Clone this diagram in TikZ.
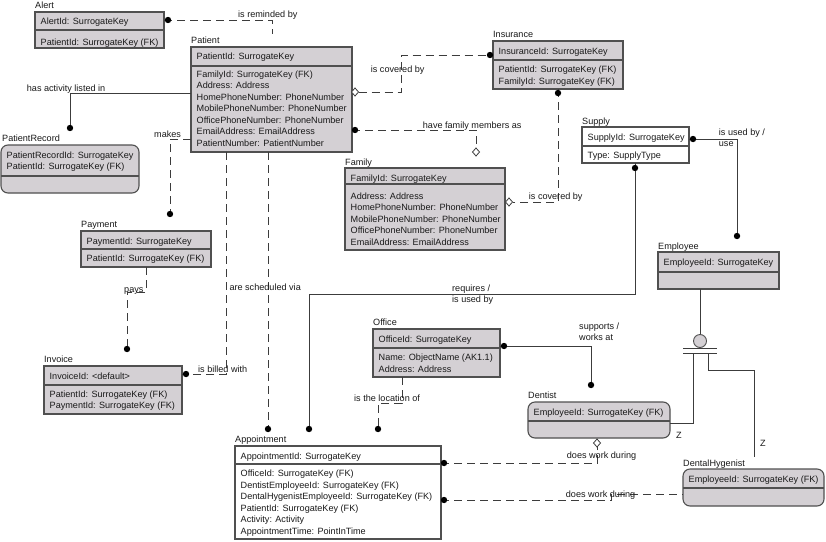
\documentclass[tikz,border=0pt]{standalone}
\usepackage{fontspec}
\setmainfont{Liberation Sans}
\newcommand\erfont{\fontsize{9.1}{11.45}\selectfont}
\definecolor{efill}{RGB}{212,208,212}
\definecolor{eline}{RGB}{80,80,80}
\definecolor{etxt}{RGB}{25,25,25}
\definecolor{cline}{RGB}{60,60,60}
\tikzset{
  ebox/.style={draw=eline, line width=1.1pt, fill=efill, anchor=north west, inner sep=0pt, outer sep=0pt},
  wbox/.style={ebox, fill=white},
  rbox/.style={ebox, rounded corners=7pt},
  sepl/.style={draw=eline, line width=1.1pt},
  etext/.style={anchor=north west, inner sep=0pt, font=\erfont, align=left, text=etxt},
  etitle/.style={anchor=base west, inner sep=0pt, font=\erfont, text=etxt},
  lab/.style={anchor=base west, inner sep=0pt, font=\erfont, text=etxt},
  conn/.style={draw=cline, line width=0.9pt},
  dconn/.style={conn, dash pattern=on 8pt off 5pt},
  erdot/.style={fill=black},
  erdia/.style={draw=cline, fill=white, line width=0.8pt}
}
\newcommand\erst{\rule{0pt}{9pt}}
\begin{document}
\begin{tikzpicture}[x=1pt,y=-1pt]
\fill[white] (0,0) rectangle (826,541);
\useasboundingbox (0,0) rectangle (826,541);

% ---------- entities ----------
% Alert
\node[ebox, minimum width=129pt, minimum height=36pt] (alert) at (35,12) {};
\draw[sepl] (alert.west |- 0,30) -- (alert.east |- 0,30);
\node[etitle] (alertt) at (35,8.3) {Alert};
\node[etext] (alertk) at (40.5,15.6) {\erst AlertId: SurrogateKey};
\node[etext] (alerta) at (40.5,36.6) {\erst PatientId: SurrogateKey (FK)};

% Patient
\node[ebox, minimum width=161pt, minimum height=105pt] (patient) at (191,47) {};
\draw[sepl] (patient.west |- 0,66) -- (patient.east |- 0,66);
\node[etitle] (patientt) at (191,43.3) {Patient};
\node[etext] (patientk) at (196.5,50.3) {\erst PatientId: SurrogateKey};
\node[etext] (patienta) at (196.5,68.3) {\erst FamilyId: SurrogateKey (FK)\\Address: Address\\HomePhoneNumber: PhoneNumber\\MobilePhoneNumber: PhoneNumber\\OfficePhoneNumber: PhoneNumber\\EmailAddress: EmailAddress\\PatientNumber: PatientNumber};

% Insurance
\node[ebox, minimum width=130pt, minimum height=48pt] (insurance) at (493,41) {};
\draw[sepl] (insurance.west |- 0,60) -- (insurance.east |- 0,60);
\node[etitle] (insurancet) at (493,37.3) {Insurance};
\node[etext] (insurancek) at (498.5,45) {\erst InsuranceId: SurrogateKey};
\node[etext] (insurancea) at (498.5,63.6) {\erst PatientId: SurrogateKey (FK)\\FamilyId: SurrogateKey (FK)};

% Family
\node[ebox, minimum width=160pt, minimum height=82pt] (family) at (345,168) {};
\draw[sepl] (family.west |- 0,184) -- (family.east |- 0,184);
\node[etitle] (familyt) at (345,165) {Family};
\node[etext] (familyk) at (350.5,172) {\erst FamilyId: SurrogateKey};
\node[etext] (familya) at (350.5,190) {\erst Address: Address\\HomePhoneNumber: PhoneNumber\\MobilePhoneNumber: PhoneNumber\\OfficePhoneNumber: PhoneNumber\\EmailAddress: EmailAddress};

% Supply
\node[wbox, minimum width=107pt, minimum height=36pt] (supply) at (582,127) {};
\draw[sepl] (supply.west |- 0,146) -- (supply.east |- 0,146);
\node[etitle] (supplyt) at (582,124) {Supply};
\node[etext] (supplyk) at (587.5,131) {\erst SupplyId: SurrogateKey};
\node[etext] (supplya) at (587.5,149.3) {\erst Type: SupplyType};

% Employee
\node[ebox, minimum width=121pt, minimum height=37pt] (employee) at (658,252) {};
\draw[sepl] (employee.west |- 0,272) -- (employee.east |- 0,272);
\node[etitle] (employeet) at (658,249) {Employee};
\node[etext] (employeek) at (663.5,256.6) {\erst EmployeeId: SurrogateKey};

% PatientRecord
\node[rbox, minimum width=138pt, minimum height=48pt] (precord) at (1,145) {};
\draw[sepl] (precord.west |- 0,176) -- (precord.east |- 0,176);
\node[etitle] (precordt) at (2,141) {PatientRecord};
\node[etext] (precordk) at (6.5,149) {\erst PatientRecordId: SurrogateKey\\PatientId: SurrogateKey (FK)};

% Payment
\node[ebox, minimum width=130pt, minimum height=36pt] (payment) at (81,231) {};
\draw[sepl] (payment.west |- 0,249) -- (payment.east |- 0,249);
\node[etitle] (paymentt) at (81,227.6) {Payment};
\node[etext] (paymentk) at (86.5,235) {\erst PaymentId: SurrogateKey};
\node[etext] (paymenta) at (86.5,252.6) {\erst PatientId: SurrogateKey (FK)};

% Invoice
\node[ebox, minimum width=138pt, minimum height=48pt] (invoice) at (44,366) {};
\draw[sepl] (invoice.west |- 0,385) -- (invoice.east |- 0,385);
\node[etitle] (invoicet) at (44,362.3) {Invoice};
\node[etext] (invoicek) at (49.5,370) {\erst InvoiceId: <default>};
\node[etext] (invoicea) at (49.5,388.3) {\erst PatientId: SurrogateKey (FK)\\PaymentId: SurrogateKey (FK)};

% Office
\node[ebox, minimum width=127pt, minimum height=48pt] (office) at (373,329) {};
\draw[sepl] (office.west |- 0,348) -- (office.east |- 0,348);
\node[etitle] (officet) at (373,325) {Office};
\node[etext] (officek) at (378.5,333) {\erst OfficeId: SurrogateKey};
\node[etext] (officea) at (378.5,351.6) {\erst Name: ObjectName (AK1.1)\\Address: Address};

% Appointment
\node[wbox, minimum width=206pt, minimum height=93pt] (appt) at (235,446) {};
\draw[sepl] (appt.west |- 0,464) -- (appt.east |- 0,464);
\node[etitle] (apptt) at (235,442.3) {Appointment};
\node[etext] (apptk) at (240.5,450) {\erst AppointmentId: SurrogateKey};
\node[etext] (appta) at (240.5,467.6) {\erst OfficeId: SurrogateKey (FK)\\DentistEmployeeId: SurrogateKey (FK)\\DentalHygenistEmployeeId: SurrogateKey (FK)\\PatientId: SurrogateKey (FK)\\Activity: Activity\\AppointmentTime: PointInTime};

% Dentist
\node[rbox, minimum width=142pt, minimum height=36pt] (dentist) at (528,402) {};
\draw[sepl] (dentist.west |- 0,421) -- (dentist.east |- 0,421);
\node[etitle] (dentistt) at (528,398) {Dentist};
\node[etext] (dentistk) at (533.5,406) {\erst EmployeeId: SurrogateKey (FK)};

% DentalHygenist
\node[rbox, minimum width=141pt, minimum height=37pt] (dh) at (683,469) {};
\draw[sepl] (dh.west |- 0,488) -- (dh.east |- 0,488);
\node[etitle] (dht) at (683,466) {DentalHygenist};
\node[etext] (dhk) at (688.5,473) {\erst EmployeeId: SurrogateKey (FK)};

% ---------- connectors ----------
% Alert - Patient
\coordinate (remEnd) at (272,34);
\draw[dconn] (alert.east |- 0,20) -- (272,20) -- (remEnd);
\fill[erdot] (168,20) circle (3.2pt);
\node[lab] (l1) at (238,17.3) {is reminded by};

% Patient - PatientRecord
\draw[conn] (patient.west |- 0,93) -- (70,93) -- (70,128);
\fill[erdot] (70,128) circle (3.2pt);
\node[lab] (l2) at (26.7,91) {has activity listed in};

% Patient - Payment
\draw[dconn] (patient.west |- 0,139) -- (170,139) -- (170,214);
\fill[erdot] (170,214) circle (3.2pt);
\node[lab] (l3) at (154,137.5) {makes};

% Patient - Insurance
\draw[dconn] (358.5,92) -- (401,92) -- (401,55) -- (insurance.west |- 0,55);
\fill[erdot] (490,55) circle (3.2pt);
\filldraw[erdia, shift={(355,92)}] (-3.5,0) -- (0,-4) -- (3.5,0) -- (0,4) -- cycle;
\node[lab] (l4) at (370.7,72.3) {is covered by};

% Patient - Family
\draw[dconn] (patient.east |- 0,130) -- (476,130) -- (476,148);
\fill[erdot] (355,130) circle (3.2pt);
\filldraw[erdia, shift={(476,152)}] (-3.5,0) -- (0,-4) -- (3.5,0) -- (0,4) -- cycle;
\node[lab] (l5) at (422.7,128.3) {have family members as};

% Insurance - Family
\draw[dconn] (558,0 |- insurance.south) -- (558,202) -- (512.5,202);
\fill[erdot] (558,93) circle (3.2pt);
\filldraw[erdia, shift={(509,202)}] (-3.5,0) -- (0,-4) -- (3.5,0) -- (0,4) -- cycle;
\node[lab] (l6) at (528.7,199.3) {is covered by};

% Supply - Employee
\draw[conn] (supply.east |- 0,139) -- (737,139) -- (737,236);
\fill[erdot] (693,139) circle (3.2pt);
\fill[erdot] (737,236) circle (3.2pt);
\node[etext] (l7) at (718.7,126.3) {\erst is used by /\\use};

% Supply - Appointment
\draw[conn] (635,0 |- supply.south) -- (635,294) -- (309,294) -- (309,429);
\fill[erdot] (635,168) circle (3.2pt);
\fill[erdot] (309,429) circle (3.2pt);
\node[etext] (l8) at (452,282.3) {\erst requires /\\is used by};

% Patient - Appointment
\draw[dconn] (268,0 |- patient.south) -- (268,429);
\fill[erdot] (268,429) circle (3.2pt);
\node[lab] (l9) at (229.3,290) {are scheduled via};

% Patient - Invoice
\draw[dconn] (226,0 |- patient.south) -- (226,374) -- (invoice.east |- 0,374);
\fill[erdot] (186,374) circle (3.2pt);
\node[lab] (l10) at (198,372) {is billed with};

% Payment - Invoice
\draw[dconn] (146,0 |- payment.south) -- (146,292) -- (127,292) -- (127,349);
\fill[erdot] (127,349) circle (3.2pt);
\node[lab] (l11) at (124,292) {pays};

% Office - Appointment
\draw[dconn] (402,0 |- office.south) -- (402,403) -- (378,403) -- (378,429);
\fill[erdot] (378,429) circle (3.2pt);
\node[lab] (l12) at (354,401) {is the location of};

% Office - Dentist
\draw[conn] (office.east |- 0,346) -- (591,346) -- (591,385);
\fill[erdot] (504,346) circle (3.2pt);
\fill[erdot] (591,385) circle (3.2pt);
\node[etext] (l13) at (579,320) {\erst supports /\\works at};

% Dentist - Appointment
\draw[dconn] (appt.east |- 0,463) -- (597,463) -- (597,447);
\fill[erdot] (444,463) circle (3.2pt);
\filldraw[erdia, shift={(597,443)}] (-3.5,0) -- (0,-4) -- (3.5,0) -- (0,4) -- cycle;
\node[lab] (l14) at (566.7,458.3) {does work during};

% DentalHygenist - Appointment
\draw[dconn] (appt.east |- 0,500) -- (611,500) -- (611,494) -- (dh.west |- 0,494);
\fill[erdot] (444,500) circle (3.2pt);
\node[lab] (l15) at (565.7,497.3) {does work during};

% Employee subtypes
\node[circle, draw=eline, fill=efill, line width=0.9pt, minimum size=13pt, inner sep=0pt] (subc) at (700,341) {};
\draw[conn] (employee.south -| subc) -- (subc.north);
\draw[conn] (683,348.3) -- (717,348.3);
\draw[conn] (683,353.6) -- (717,353.6);
\draw[conn] (693,353.6) -- (693,423) -- (dentist.east |- 0,423);
\coordinate (dhEnd) at (754,457);
\draw[conn] (708,353.6) -- (708,370) -- (754,370) -- (dhEnd);
\node[lab] (z1) at (676,438.5) {Z};
\node[lab] (z2) at (760,446.5) {Z};
\end{tikzpicture}
\end{document}
